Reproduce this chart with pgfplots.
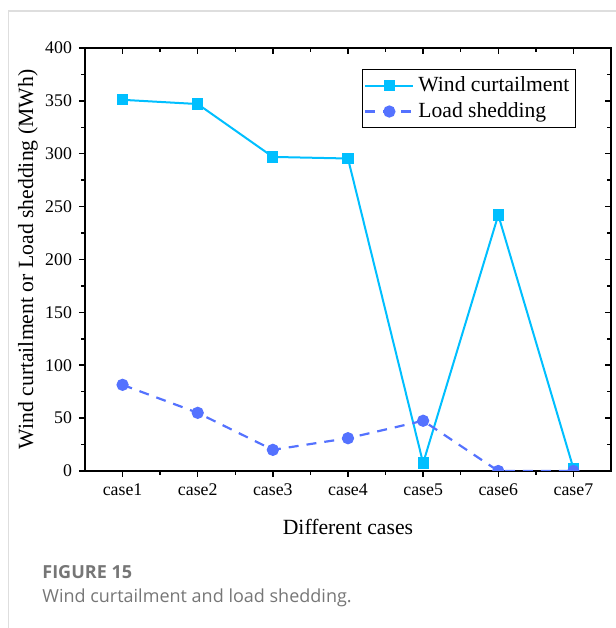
\documentclass[border=0pt]{standalone}
\usepackage{fontspec}
\setmainfont{Liberation Serif}
\newfontfamily\capfont{Open Sans}
\usepackage{pgfplots}
\pgfplotsset{compat=1.18}
\definecolor{windc}{RGB}{0,191,255}
\definecolor{loadc}{RGB}{84,114,255}
\definecolor{framec}{RGB}{222,222,222}
\definecolor{capc}{RGB}{118,118,118}
\pgfplotsset{
  common/.style={
    at={(42.5pt,78.5pt)}, anchor=south west, scale only axis,
    width=263pt, height=211.5pt,
    xmin=0.5, xmax=7.5, ymin=0, ymax=400,
    xtick={1,2,3,4,5,6,7},
    ytick={0,50,100,150,200,250,300,350,400},
    minor x tick num=1, minor y tick num=1,
    axis line style={line width=0.75pt},
    major tick length=3pt, minor tick length=1.8pt,
    every tick/.style={black, line width=0.75pt},
    every minor tick/.style={black, line width=0.75pt},
  }
}
\begin{document}
\begin{tikzpicture}[x=1pt,y=1pt]
\useasboundingbox (0,0) rectangle (308,314);
\draw[framec, line width=0.8pt] (4.3,0) -- (4.3,308.6) -- (308,308.6);
% mirrored inner ticks on top and right
\begin{axis}[common,
  xtick pos=right, ytick pos=right, tick align=inside,
  xticklabels={}, yticklabels={}]
\end{axis}
\begin{axis}[common,
  xtick pos=left, ytick pos=left, tick align=outside,
  xticklabels={case1,case2,case3,case4,case5,case6,case7},
  /pgf/number format/assume math mode=true,
  xticklabel style={font=\fontsize{8.9}{10}\selectfont},
  yticklabel style={font=\fontsize{8.9}{10}\selectfont},
  xlabel={Different cases},
  ylabel={Wind curtailment or Load shedding (MWh)},
  label style={font=\fontsize{10.85}{12}\selectfont},
  xlabel style={at={(axis description cs:0.5,-0.1324)}, anchor=center},
  ylabel style={at={(axis description cs:-0.1084,0.5)}, anchor=center},
  clip marker paths=true,
  legend style={at={(0.933,0.95)}, anchor=north east, draw=black,
    font=\fontsize{10.8}{12.5}\selectfont, inner xsep=1pt, inner ysep=1.5pt,
    cells={anchor=west}},
  legend image code/.code={\draw[mark repeat=2,mark phase=2] plot coordinates {(0pt,0pt) (12pt,0pt) (24pt,0pt)};},
]
\addplot[windc, line width=1pt, mark=square*, mark size=2.3pt, mark options={solid}]
  coordinates {(1,351) (2,347) (3,297) (4,295.5) (5,7.5) (6,242) (7,2.5)};
\addlegendentry{Wind curtailment}
\addplot[loadc, line width=1.1pt, dash pattern=on 5pt off 4pt, mark=*, mark size=2.5pt, mark options={solid}]
  coordinates {(1,81.5) (2,55) (3,20) (4,31) (5,47.5) (6,0) (7,0)};
\addlegendentry{Load shedding}
\end{axis}
\node[anchor=west, inner sep=0pt, text=capc, font=\capfont\bfseries\fontsize{9}{10}\selectfont] at (21,28) {FIGURE 15};
\node[anchor=west, inner sep=0pt, text=capc, font=\capfont\fontsize{9}{10}\selectfont] at (21,15) {Wind curtailment and load shedding.};
\end{tikzpicture}
\end{document}
